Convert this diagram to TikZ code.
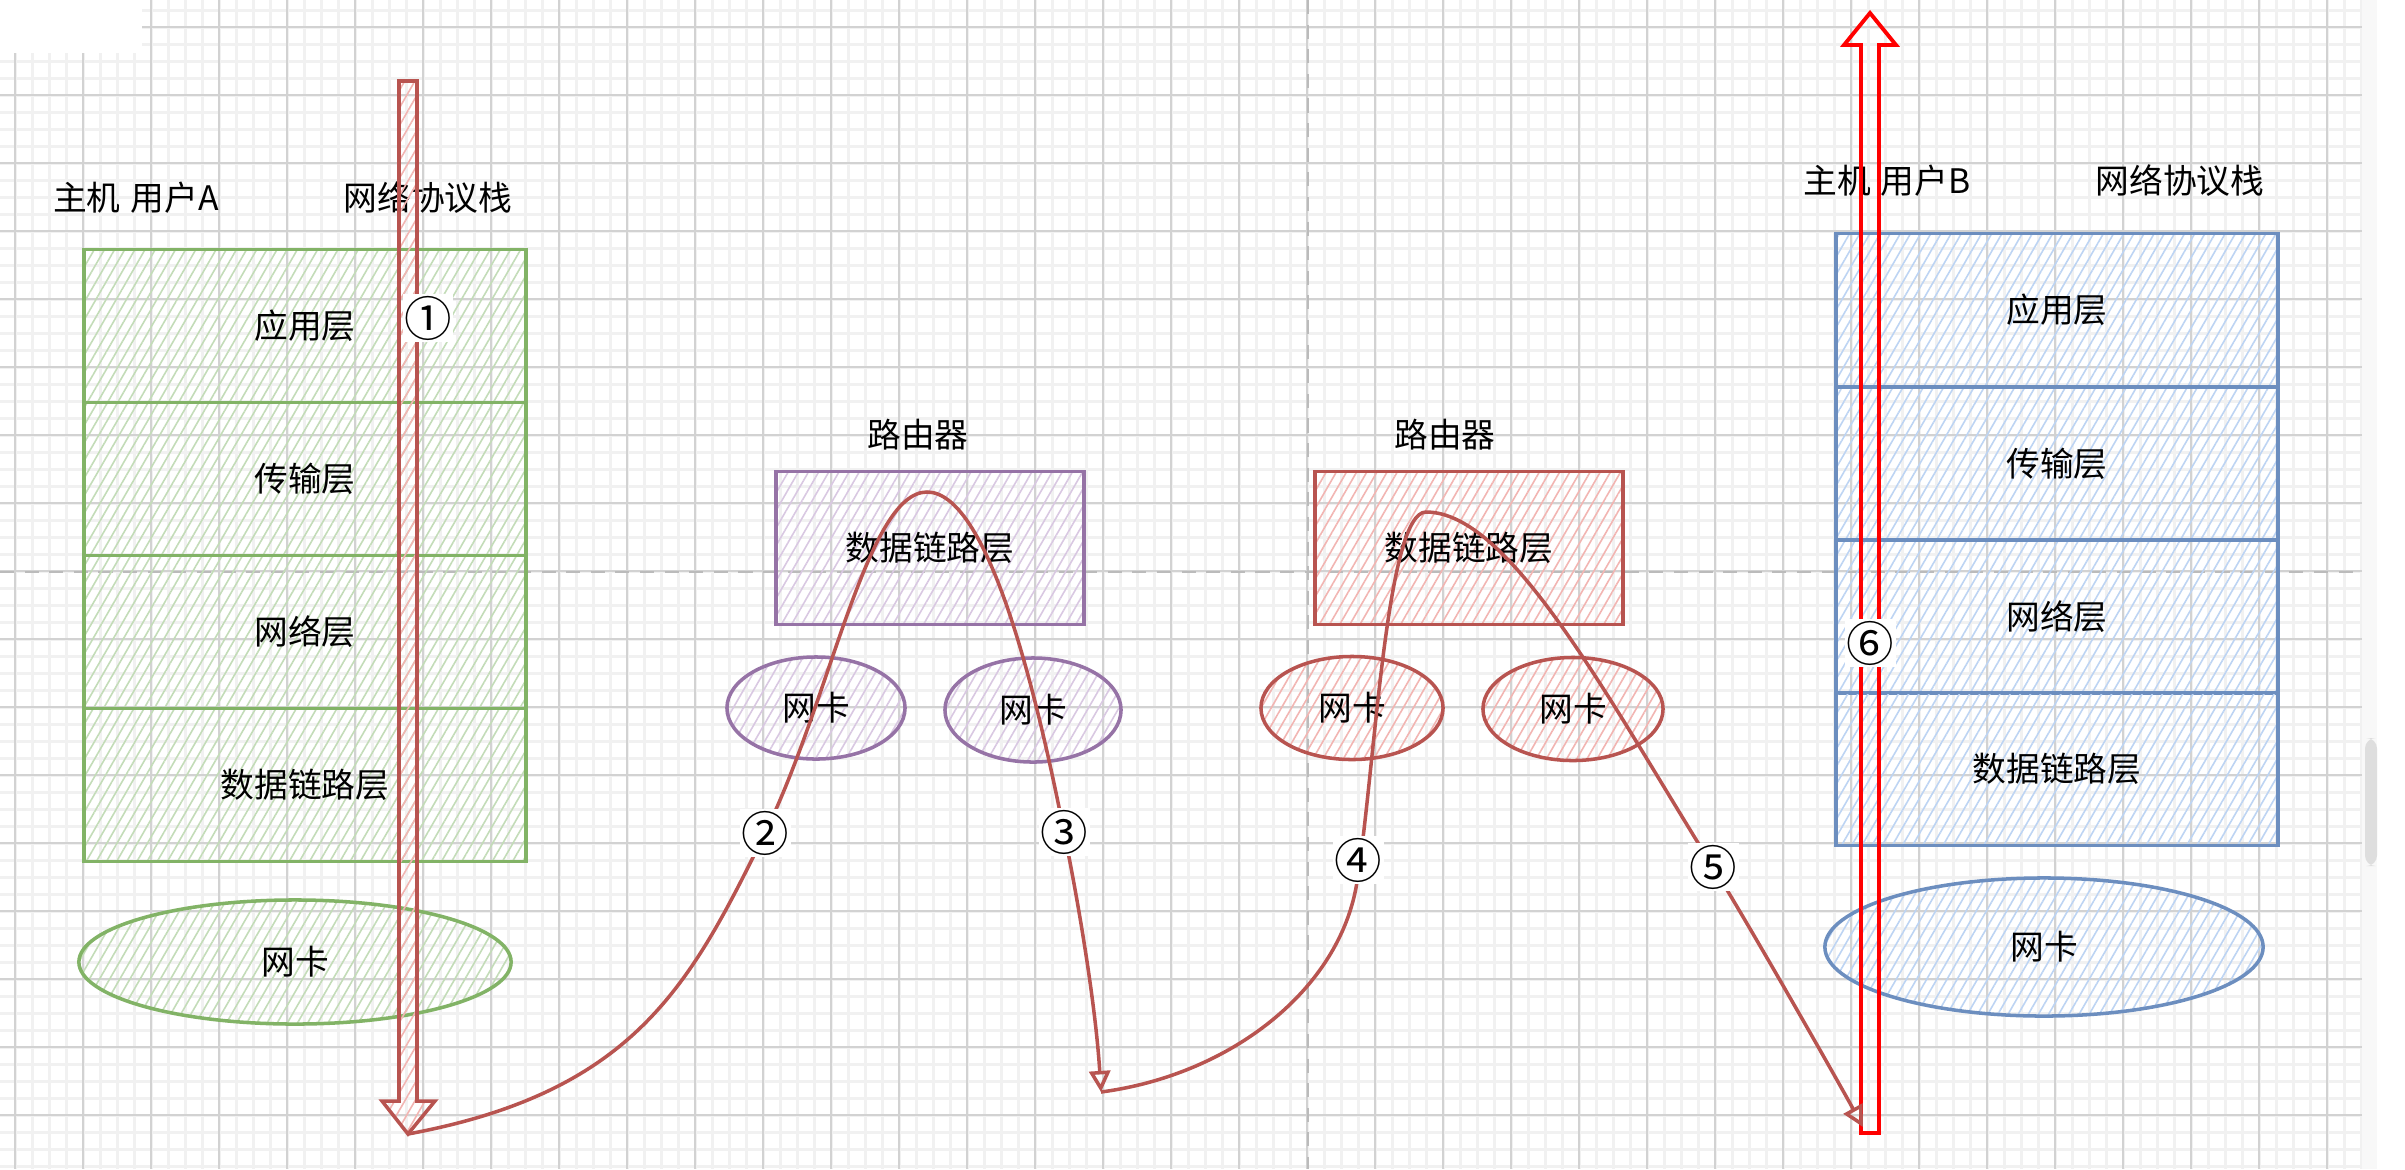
\documentclass[tikz,border=0pt]{standalone}
\usepackage{fontspec}
\setmainfont{Noto Sans CJK SC}
\usetikzlibrary{patterns.meta,arrows.meta,shapes.geometric}
\definecolor{gS}{HTML}{82B366}
\definecolor{gH}{HTML}{C3DCB8}
\definecolor{pS}{HTML}{9673A6}
\definecolor{pH}{HTML}{D9C8E2}
\definecolor{rS}{HTML}{B85450}
\definecolor{rH}{HTML}{F2B5B2}
\definecolor{bS}{HTML}{6C8EBF}
\definecolor{bH}{HTML}{BDD4F3}
\definecolor{minorG}{HTML}{F1F1F1}
\definecolor{majorG}{HTML}{D2D2D2}
\definecolor{dashG}{HTML}{BBBBBB}
\definecolor{pureRed}{HTML}{FF0000}
\definecolor{scrollG}{HTML}{F8F8F8}
\definecolor{thumbG}{HTML}{DEDEDE}
\tikzset{
  every node/.style={font=\fontsize{9.6}{11}\selectfont, text=black},
  hatch/.style={pattern={Lines[angle=60,distance=2.5pt,line width=0.45pt]}},
  layerbox/.style={rectangle, draw, line width=1pt, minimum width=4.42cm, minimum height=1.53cm, inner sep=0pt, hatch},
  routerbox/.style={rectangle, draw, line width=1pt, minimum width=3.08cm, minimum height=1.53cm, inner sep=0pt, hatch},
  nicshape/.style={ellipse, draw, line width=1pt, inner sep=0pt, hatch},
  greenstyle/.style={draw=gS, pattern color=gH},
  purplestyle/.style={draw=pS, pattern color=pH},
  redstyle/.style={draw=rS, pattern color=rH},
  bluestyle/.style={draw=bS, pattern color=bH},
  plain/.style={inner sep=1pt},
  numlabel/.style={fill=white, inner sep=0.5pt, font=\fontsize{13.5}{14}\selectfont},
  flow/.style={draw=rS, line width=1pt, -{Triangle[open, length=6pt, width=6pt]}},
  minorline/.style={draw=minorG, line width=0.7pt},
  majorline/.style={draw=majorG, line width=0.5pt},
  guide/.style={draw=dashG, line width=0.6pt, dash pattern=on 4pt off 3pt}
}
\begin{document}
\begin{tikzpicture}[x=0.01cm, y=-0.01cm]
\useasboundingbox (0,0) rectangle (2405,1169);
\fill[white] (0,0) rectangle (2405,1169);
% grid
\begin{scope}
\clip (0,0) rectangle (2362,1169);
\foreach \k in {0,...,139} { \draw[minorline] ({-1.7+17*\k},0) -- ({-1.7+17*\k},1169); }
\foreach \k in {0,...,70} { \draw[minorline] (0,{-6.7+17*\k}) -- (2362,{-6.7+17*\k}); }
\foreach \k in {0,...,34} { \draw[majorline] ({15.3+68*\k},0) -- ({15.3+68*\k},1169); }
\foreach \k in {0,...,16} { \draw[majorline] (0,{27.3+68*\k}) -- (2362,{27.3+68*\k}); }
\end{scope}
\fill[white] (0,0) rectangle (142,53);
\fill[scrollG] (2362,0) rectangle (2377,1169);
\fill[thumbG, rounded corners=3pt] (2365,738) rectangle (2377,866);
\draw[guide] (1308,0) -- (1308,1169);
\draw[guide] (0,572) -- (2362,572);

% Host A
\node[plain] (hA) at (136,198) {主机\hspace{0.3em}用户A};
\node[plain] (sA) at (428,198) {网络协议栈};
\node[layerbox, greenstyle] (A1) at (305,326) {应用层};
\node[layerbox, greenstyle] (A2) at (305,479) {传输层};
\node[layerbox, greenstyle] (A3) at (305,632) {网络层};
\node[layerbox, greenstyle] (A4) at (305,785) {数据链路层};
\node[nicshape, greenstyle, minimum width=4.32cm, minimum height=1.24cm] (A5) at (295,962) {网卡};

% Router 1
\node[plain] (r1t) at (918,435) {路由器};
\node[routerbox, purplestyle] (R1) at (930,548) {数据链路层};
\node[nicshape, purplestyle, minimum width=1.78cm, minimum height=1.02cm] (R1a) at (816,708) {网卡};
\node[nicshape, purplestyle, minimum width=1.76cm, minimum height=1.04cm] (R1b) at (1033,710) {网卡};

% Router 2
\node[plain] (r2t) at (1445,435) {路由器};
\node[routerbox, redstyle] (R2) at (1469,548) {数据链路层};
\node[nicshape, redstyle, minimum width=1.82cm, minimum height=1.03cm] (R2a) at (1352,708) {网卡};
\node[nicshape, redstyle, minimum width=1.80cm, minimum height=1.03cm] (R2b) at (1573,709) {网卡};

% Host B
\node[plain] (hB) at (1887,181) {主机\hspace{0.3em}用户B};
\node[plain] (sB) at (2180,181) {网络协议栈};
\node[layerbox, bluestyle] (B1) at (2057,310) {应用层};
\node[layerbox, bluestyle] (B2) at (2057,463.5) {传输层};
\node[layerbox, bluestyle] (B3) at (2057,616.5) {网络层};
\node[layerbox, bluestyle] (B4) at (2057,769) {数据链路层};
\node[nicshape, bluestyle, minimum width=4.38cm, minimum height=1.38cm] (B5) at (2044,947) {网卡};

% key points
\coordinate (tipA) at (408,1134);
\coordinate (midTip) at (1101,1092);
\coordinate (tipB) at (1863,1127);
\coordinate (p2) at (765,833);
\coordinate (p3) at (1064,832);
\coordinate (p4) at (1357,882);
\coordinate (p5) at (1713,867);
\coordinate (top1) at (927,492);
\coordinate (top2) at (1426,512);

% big arrow down (host A stack)
\draw[redstyle, line width=1pt, hatch, line join=miter]
  (399,81) -- (417,81) -- (417,1101) -- (435,1101) -- (tipA) -- (382,1101) -- (399,1101) -- cycle;

% big arrow up (host B stack)
\draw[draw=pureRed, line width=1.1pt, line join=miter]
  (1861,1133) -- (1861,45) -- (1844,45) -- (1870,13) -- (1896,45) -- (1879,45) -- (1879,1133) -- cycle;

% flow curves
\draw[flow] (tipA) .. controls (634,1092) and (690,986) .. (p2)
  .. controls (831,698) and (867,492) .. (top1)
  .. controls (987,492) and (1035,685) .. (p3)
  .. controls (1080,910) and (1096,1010) .. (midTip);
\draw[flow] (midTip) .. controls (1230,1075) and (1340,990) .. (p4)
  .. controls (1375,770) and (1386,512) .. (top2)
  .. controls (1510,512) and (1607,697) .. (p5)
  .. controls (1745,918) and (1834,1074) .. (tipB);

% step labels
\node[numlabel] (n1) at (428,318) {①};
\node[numlabel] (n2) at (p2) {②};
\node[numlabel] (n3) at (p3) {③};
\node[numlabel] (n4) at (1358,860) {④};
\node[numlabel] (n5) at (p5) {⑤};
\node[numlabel] (n6) at (1870,643) {⑥};
\end{tikzpicture}
\end{document}
